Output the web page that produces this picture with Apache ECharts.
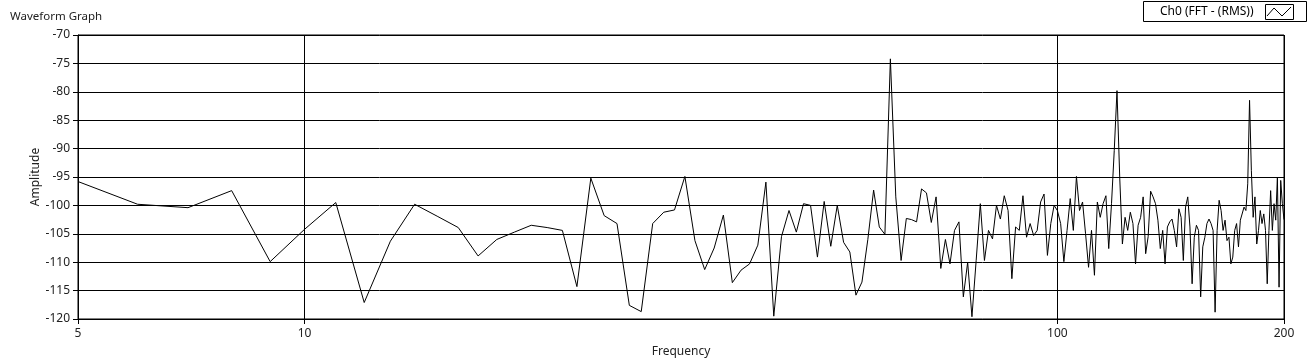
<!DOCTYPE html>
<html><head><meta charset="utf-8">
<script src="https://cdn.jsdelivr.net/npm/echarts@6/dist/echarts.min.js"></script>
<style>html,body{margin:0;padding:0;background:#fff}#c{width:1308px;height:361px}</style>
</head><body><div id="c"></div>
<script>
// Frequency bins (Hz)
const frequencies = [
  5,6,7,8,9,10,11,12,13,14,15,16,17,18,19,20,21,22,23,24,25,26,27,28,29,30,
  31,32,33,34,35,36,37,38,39,40,41,42,43,44,45,46,47,48,49,50,
  51,52,53,54,55,56,57,58,59,60,61,62,63,64,65,66,67,68,69,70,
  71,72,73,74,75,76,77,78,79,80,81,82,83,84,85,86,87,88,89,90,
  91,92,93,94,95,96,97,98,99,100,101,102,103,104,105,106,107,108,109,110,
  111,112,113,114,115,116,117,118,119,120,121,122,123,124,125,126,127,128,129,130,
  131,132,133,134,135,136,137,138,139,140,141,142,143,144,145,146,147,148,149,150,
  151,152,153,154,155,156,157,158,159,160,161,162,163,164,165,166,167,168,169,170,
  171,172,173,174,175,176,177,178,179,180,181,182,183,184,185,186,187,188,189,190,
  191,192,193,194,195,196,197,198,199,200
];
// Amplitude (dB)
const amplitudes = [
  -95.8,-99.8,-100.4,-97.4,-109.9,-104.2,-99.5,-117.1,-106.3,-99.8,-101.9,-103.9,-108.9,-106.0,-104.7,-103.5,
  -103.9,-104.4,-114.3,-95.2,-101.8,-103.2,-117.6,-118.7,-103.2,-101.2,
  -100.8,-94.9,-106.2,-111.3,-107.5,-101.7,-113.6,-111.4,-110.3,-107.0,
  -95.9,-119.5,-105.5,-100.9,-104.7,-99.7,-100.0,-109.1,-99.3,-107.2,
  -100.0,-106.5,-108.2,-115.8,-113.5,-106.0,-97.3,-103.8,-105.1,-74.2,
  -98.5,-109.7,-102.3,-102.5,-102.9,-97.1,-97.8,-103.0,-98.5,-111.1,
  -106.0,-110.3,-104.4,-102.9,-116.1,-110.0,-119.6,-109.7,-99.7,-109.7,
  -104.4,-105.9,-100.0,-102.4,-98.3,-100.9,-112.9,-103.8,-104.4,-98.3,
  -105.6,-103.2,-105.3,-104.4,-99.4,-98.0,-108.8,-103.2,-100.0,-100.9,
  -103.2,-109.9,-104.4,-98.8,-104.4,-94.9,-100.9,-99.4,-105.0,-110.9,
  -104.4,-112.3,-99.4,-102.1,-99.7,-98.3,-107.6,-99.7,-90.3,-79.8,
  -95.0,-106.8,-102.1,-104.4,-101.2,-103.2,-110.3,-103.5,-102.1,-98.5,
  -108.5,-105.5,-97.5,-98.5,-99.7,-102.6,-107.6,-104.4,-110.3,-103.8,
  -102.9,-102.4,-104.4,-107.3,-100.6,-102.1,-109.7,-100.3,-98.5,-103.8,
  -113.8,-105.6,-103.5,-104.4,-116.1,-107.3,-105.6,-103.2,-102.4,-103.2,
  -104.4,-118.8,-104.4,-99.1,-100.9,-104.4,-102.6,-106.2,-105.6,-110.3,
  -109.1,-104.4,-103.2,-107.3,-102.6,-102.6,-100.3,-100.9,-96.2,-81.5,
  -93.9,-102.1,-98.5,-106.8,-104.4,-100.9,-103.2,-101.5,-104.4,-113.8,
  -104.4,-97.4,-104.4,-99.7,-102.6,-95.0,-114.4,-95.6,-99.7,-102.5
];
const seriesName = 'Ch0 (FFT - (RMS))';
const chartTitle = 'Waveform Graph';
const xName = 'Frequency';
const yName = 'Amplitude';

const FONT = 'Noto Sans';
const chart = echarts.init(document.getElementById('c'), null, {renderer: 'canvas'});
const data = frequencies.map((f, i) => [f, amplitudes[i]]);

chart.setOption({
  animation: false,
  backgroundColor: '#fff',
  title: {
    text: chartTitle, left: 5, top: 6,
    textStyle: {fontFamily: FONT, fontSize: 11.5, fontWeight: 'normal', color: '#222'}
  },
  grid: {left: 78, right: 24, top: 35, bottom: 42, show: true, borderColor: '#000', borderWidth: 1,
         containLabel: false, outerBoundsMode: 'none'},
  xAxis: {
    type: 'log', logBase: 10, min: 5, max: 200,
    name: xName, nameLocation: 'middle', nameGap: 27, nameMoveOverlap: false,
    nameTextStyle: {fontFamily: FONT, fontSize: 12, color: '#222'},
    axisLine: {show: true, lineStyle: {color: '#000', width: 1}},
    axisTick: {show: true, length: 5, lineStyle: {color: '#000'}},
    minorTick: {show: false},
    minorSplitLine: {show: false},
    axisLabel: {fontFamily: FONT, fontSize: 12, color: '#222', margin: 9},
    splitLine: {show: true, lineStyle: {color: '#000', width: 1}}
  },
  yAxis: {
    type: 'value', min: -120, max: -70, interval: 5,
    name: yName, nameLocation: 'middle', nameGap: 36, nameMoveOverlap: false,
    nameTextStyle: {fontFamily: FONT, fontSize: 12, color: '#222'},
    axisLine: {show: true, lineStyle: {color: '#000', width: 1}},
    axisTick: {show: true, length: 5, lineStyle: {color: '#000'}},
    axisLabel: {fontFamily: FONT, fontSize: 12, color: '#222', margin: 8},
    splitLine: {show: true, lineStyle: {color: '#000', width: 1}}
  },
  series: [{
    name: seriesName, type: 'line', data: data,
    showSymbol: false, symbol: 'none', smooth: false,
    lineStyle: {color: '#000', width: 1},
    itemStyle: {color: '#000'},
    emphasis: {disabled: true}
  }],
  graphic: [
    {type: 'rect', shape: {x: 1143.5, y: 1.5, width: 163, height: 20}, style: {fill: '#fff', stroke: '#000', lineWidth: 1}, z: 10},
    {type: 'text', x: 1160, y: 12, style: {text: seriesName, fontFamily: FONT, fontSize: 12, fill: '#000', verticalAlign: 'middle', align: 'left'}, z: 11},
    {type: 'rect', shape: {x: 1265.5, y: 4.5, width: 28, height: 15}, style: {fill: '#fff', stroke: '#000', lineWidth: 1}, z: 11},
    {type: 'polyline', shape: {points: [[1267, 16], [1274, 8], [1282, 16], [1291, 7]]}, style: {stroke: '#000', lineWidth: 1, fill: null}, z: 12}
  ]
});
</script>
</body></html>
